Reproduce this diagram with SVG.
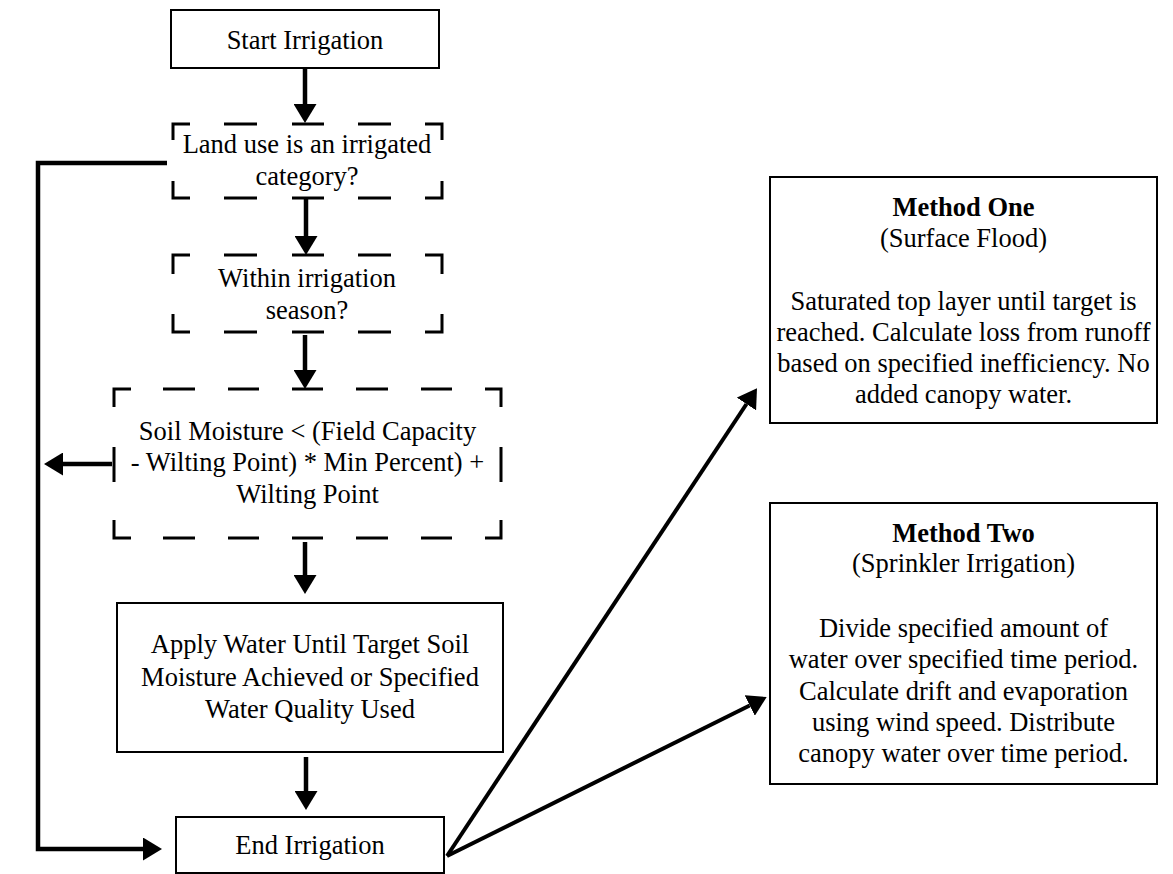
<svg xmlns="http://www.w3.org/2000/svg" width="1173" height="874" viewBox="0 0 1173 874">
<defs>
<style>
text{font-family:"Liberation Serif","Times New Roman",serif;font-size:26.5px;fill:#000;text-anchor:middle}
.b{font-weight:bold}
.solid{fill:#fff;stroke:#000;stroke-width:2}
.dash{fill:none;stroke:#000;stroke-width:3}
.con{fill:none;stroke:#000;stroke-width:4.5}
.diag{fill:none;stroke:#000;stroke-width:4}
</style>
<marker id="ah" viewBox="0 0 19 23" refX="0" refY="11.5" markerWidth="19" markerHeight="23" markerUnits="userSpaceOnUse" orient="auto">
<path d="M0,0 L19,11.5 L0,23 Z" fill="#000"/>
</marker>
</defs>
<rect width="1173" height="874" fill="#fff"/>
<g id="connectors">
<path class="con" d="M305,68 V104" marker-end="url(#ah)"/>
<path class="con" d="M306,198 V236" marker-end="url(#ah)"/>
<path class="con" d="M305,335 V370" marker-end="url(#ah)"/>
<path class="con" d="M305,542 V575" marker-end="url(#ah)"/>
<path class="con" d="M306,757 V791" marker-end="url(#ah)"/>
<path class="con" d="M167,163 H38 V849 H143" marker-end="url(#ah)"/>
<path class="con" d="M112,464 H63" marker-end="url(#ah)"/>
<path class="diag" d="M447,856 L746.5,404" marker-end="url(#ah)"/>
<path class="diag" d="M447,856 L749.7,705.5" marker-end="url(#ah)"/>
</g>
<g id="start">
<rect class="solid" x="171" y="10" width="268" height="58"/>
<text x="305" y="49">Start Irrigation</text>
</g>
<g id="landuse">
<path class="dash" d="M173,140 V124 H190 M224,124 H257 M292,124 H324 M358,124 H391 M425,124 H442 V140 M173,181 V198 H190 M224,198 H257 M292,198 H324 M358,198 H391 M425,198 H442 V181"/>
<text x="307" y="153">Land use is an irrigated</text>
<text x="307" y="185">category?</text>
</g>
<g id="season">
<path class="dash" d="M173,274 V255 H190 M224,255 H257 M292,255 H324 M358,255 H391 M425,255 H442 V274 M173,314 V332 H190 M224,332 H257 M292,332 H324 M358,332 H391 M425,332 H442 V314"/>
<text x="307" y="287">Within irrigation</text>
<text x="307" y="319">season?</text>
</g>
<g id="moisture">
<path class="dash" d="M114,407 V389 H131 M163,389 H195 M228,389 H259 M292,389 H323 M356,389 H388 M421,389 H452 M485,389 H501 V407 M114,520 V538 H131 M163,538 H195 M228,538 H259 M292,538 H323 M356,538 H388 M421,538 H452 M485,538 H501 V520 M114,447 V482 M501,447 V482"/>
<text x="307.5" y="440">Soil Moisture &lt; (Field Capacity</text>
<text x="307.5" y="471">- Wilting Point) * Min Percent) +</text>
<text x="307.5" y="503">Wilting Point</text>
</g>
<g id="apply">
<rect class="solid" x="117" y="603" width="386" height="149"/>
<text x="310" y="653">Apply Water Until Target Soil</text>
<text x="310" y="686">Moisture Achieved or Specified</text>
<text x="310" y="718">Water Quality Used</text>
</g>
<g id="end">
<rect class="solid" x="176" y="817" width="268" height="56"/>
<text x="310" y="854">End Irrigation</text>
</g>
<g id="method1">
<rect class="solid" x="770" y="177" width="387" height="246"/>
<text class="b" x="963.5" y="216">Method One</text>
<text x="963.5" y="247">(Surface Flood)</text>
<text x="963.5" y="310">Saturated top layer until target is</text>
<text x="963.5" y="341">reached. Calculate loss from runoff</text>
<text x="963.5" y="372">based on specified inefficiency. No</text>
<text x="963.5" y="403">added canopy water.</text>
</g>
<g id="method2">
<rect class="solid" x="770" y="503" width="387" height="281"/>
<text class="b" x="963.5" y="542">Method Two</text>
<text x="963.5" y="572">(Sprinkler Irrigation)</text>
<text x="963.5" y="637">Divide specified amount of</text>
<text x="963.5" y="668">water over specified time period.</text>
<text x="963.5" y="700">Calculate drift and evaporation</text>
<text x="963.5" y="731">using wind speed. Distribute</text>
<text x="963.5" y="762">canopy water over time period.</text>
</g>
</svg>
